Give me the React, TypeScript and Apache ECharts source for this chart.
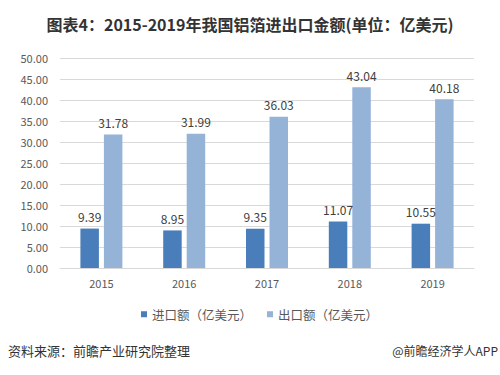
import React, { useEffect, useRef } from "react";
import * as echarts from "echarts";

const years = ["2015", "2016", "2017", "2018", "2019"];
const importValues = [9.39, 8.95, 9.35, 11.07, 10.55];
const exportValues = [31.78, 31.99, 36.03, 43.04, 40.18];
const seriesNames = ["进口额（亿美元）", "出口额（亿美元）"];
const titleText = "图表4：2015-2019年我国铝箔进出口金额(单位：亿美元)";
const sourceText = "资料来源：前瞻产业研究院整理";
const brandText = "@前瞻经济学人APP";

const FONT = "'Microsoft YaHei', 'Noto Sans CJK SC', sans-serif";

export default function App() {
  const ref = useRef<HTMLDivElement>(null);
  useEffect(() => {
    if (!ref.current) return;
    const chart = echarts.init(ref.current, null, { renderer: "svg" });
    chart.setOption({
      animation: false,
      backgroundColor: "#ffffff",
      textStyle: { fontFamily: FONT },
      title: {
        text: titleText,
        left: "center",
        top: 11,
        textStyle: { fontSize: 16, fontWeight: "bold", color: "#333333", fontFamily: FONT },
      },
      grid: { left: 60, right: 26, top: 58, bottom: 107, containLabel: false },
      legend: {
        data: seriesNames,
        left: 136,
        top: 303,
        icon: "rect",
        itemWidth: 6,
        itemHeight: 6,
        itemGap: 15,
        textStyle: { fontSize: 12.5, color: "#595959", fontFamily: FONT },
      },
      xAxis: {
        type: "category",
        data: years,
        axisLine: { lineStyle: { color: "#d9d9d9" } },
        axisTick: { show: false },
        axisLabel: { color: "#595959", fontSize: 11, margin: 9, fontFamily: FONT },
      },
      yAxis: {
        type: "value",
        min: 0,
        max: 50,
        interval: 5,
        axisLine: { show: false },
        axisTick: { show: false },
        splitLine: { lineStyle: { color: "#d9d9d9" } },
        axisLabel: {
          color: "#595959",
          fontSize: 11,
          margin: 12,
          fontFamily: FONT,
          formatter: (v: number) => v.toFixed(2),
        },
      },
      series: [
        {
          name: seriesNames[0],
          type: "bar",
          data: importValues,
          barWidth: 18.5,
          barGap: "27%",
          itemStyle: { color: "#4a7ebb" },
          label: {
            show: true,
            position: "top",
            distance: 6,
            color: "#404040",
            fontSize: 12,
            fontFamily: FONT,
            formatter: (p: any) => p.value.toFixed(2),
          },
        },
        {
          name: seriesNames[1],
          type: "bar",
          data: exportValues,
          barWidth: 18.5,
          barGap: "27%",
          itemStyle: { color: "#95b3d7" },
          label: {
            show: true,
            position: "top",
            distance: 6,
            color: "#404040",
            fontSize: 12,
            fontFamily: FONT,
            formatter: (p: any) => p.value.toFixed(2),
          },
        },
      ],
      graphic: [
        {
          type: "text",
          left: 8,
          top: 344,
          style: { text: sourceText, fontSize: 13, fill: "#333333", fontFamily: FONT },
        },
        {
          type: "text",
          right: 2,
          top: 344,
          style: { text: brandText, fontSize: 12, fill: "#333333", fontFamily: FONT },
        },
      ],
    });
    return () => chart.dispose();
  }, []);
  return <div ref={ref} style={{ width: 500, height: 375, position: "absolute", left: 0, top: 0 }} />;
}
